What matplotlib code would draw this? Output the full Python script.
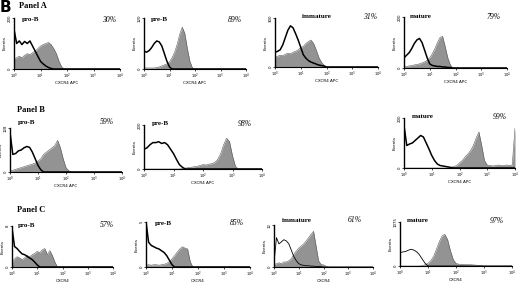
import numpy as np
import matplotlib
matplotlib.use('Agg')
import matplotlib.pyplot as plt

# histogram heights (fraction of axis height) every 0.1 decade from 10^0
a1_open = [0.78, 0.5, 0.55, 0.48, 0.54, 0.5, 0.55, 0.45, 0.35, 0.25, 0.15, 0.1, 0.06, 0.03, 0.01]
a1_fill = [0.2, 0.22, 0.25, 0.22, 0.27, 0.3, 0.28, 0.32, 0.35, 0.4, 0.45, 0.48, 0.5, 0.52, 0.48, 0.4, 0.3, 0.15, 0.04]
a2_open = [0.35, 0.33, 0.36, 0.42, 0.5, 0.55, 0.53, 0.45, 0.3, 0.15, 0.04]
a2_fill = [0.02, 0.02, 0.02, 0.02, 0.02, 0.03, 0.04, 0.06, 0.08, 0.1, 0.14, 0.22, 0.33, 0.48, 0.68, 0.82, 0.7, 0.4, 0.15, 0.02]
a3_open = [0.3, 0.32, 0.35, 0.45, 0.6, 0.75, 0.84, 0.8, 0.68, 0.55, 0.4, 0.25, 0.18, 0.13, 0.1, 0.08, 0.06, 0.04, 0.03, 0.02]
a3_fill = [0.2, 0.22, 0.24, 0.23, 0.26, 0.28, 0.27, 0.3, 0.32, 0.35, 0.4, 0.42, 0.48, 0.52, 0.55, 0.48, 0.35, 0.2, 0.1, 0.04]
a4_open = [0.2, 0.25, 0.3, 0.38, 0.48, 0.55, 0.58, 0.5, 0.35, 0.2, 0.08, 0.05, 0.04, 0.03, 0.03, 0.02, 0.02, 0.01, 0.01]
a4_fill = [0.02, 0.03, 0.04, 0.05, 0.06, 0.07, 0.08, 0.1, 0.12, 0.15, 0.2, 0.28, 0.38, 0.5, 0.6, 0.62, 0.42, 0.2, 0.06]
b1_open = [0.9, 0.4, 0.42, 0.48, 0.5, 0.55, 0.58, 0.56, 0.45, 0.3, 0.15, 0.05]
b1_fill = [0.02, 0.04, 0.06, 0.08, 0.1, 0.12, 0.14, 0.16, 0.18, 0.2, 0.25, 0.3, 0.4, 0.45, 0.5, 0.55, 0.6, 0.72, 0.55, 0.3, 0.1, 0.03]
b2_open = [0.45, 0.48, 0.55, 0.6, 0.6, 0.62, 0.58, 0.6, 0.55, 0.45, 0.35, 0.22, 0.1, 0.04]
b2_fill = [0, 0, 0, 0, 0, 0, 0, 0, 0, 0, 0, 0, 0, 0.01, 0.02, 0.03, 0.04, 0.05, 0.06, 0.08, 0.1,
           0.09, 0.11, 0.12, 0.15, 0.22, 0.35, 0.55, 0.7, 0.62, 0.3, 0.06]
b3_open = [0.85, 0.45, 0.48, 0.5, 0.55, 0.6, 0.65, 0.62, 0.5, 0.38, 0.25, 0.15, 0.08, 0.05, 0.04, 0.03, 0.02, 0.01]
b3_fill = [0, 0, 0, 0, 0, 0, 0, 0, 0, 0, 0, 0, 0, 0, 0, 0, 0, 0.01, 0.03, 0.05, 0.1, 0.15, 0.22, 0.28,
           0.35, 0.45, 0.6, 0.72, 0.45, 0.15, 0.06, 0.05, 0.04, 0.05, 0.06, 0.05, 0.05, 0.06, 0.05, 0.06, 0.8]
c1_open = [0.95, 0.5, 0.45, 0.38, 0.32, 0.3, 0.26, 0.22, 0.18, 0.12, 0.05]
c1_fill = [0.1, 0.2, 0.25, 0.22, 0.18, 0.22, 0.28, 0.25, 0.3, 0.33, 0.38, 0.35, 0.42, 0.45, 0.3, 0.4, 0.28, 0.12]
c2_open = [1.0, 0.55, 0.48, 0.45, 0.42, 0.4, 0.36, 0.32, 0.25, 0.15, 0.05]
c2_fill = [0.04, 0.05, 0.04, 0.05, 0.05, 0.04, 0.05, 0.06, 0.08, 0.12, 0.18, 0.25, 0.33, 0.4, 0.45, 0.42, 0.4, 0.12]
c3_open = [0.1, 0.7, 0.55, 0.6, 0.65, 0.62, 0.55, 0.4, 0.25, 0.15, 0.08, 0.05, 0.04, 0.03, 0.03, 0.02, 0.02, 0.01, 0.01, 0.01]
c3_fill = [0.05, 0.08, 0.1, 0.08, 0.12, 0.12, 0.15, 0.2, 0.3, 0.38, 0.45, 0.5, 0.55, 0.62, 0.7, 0.78, 0.85, 0.5, 0.15, 0.06, 0.05, 0.02]
c4_open = [0.3, 0.32, 0.33, 0.36, 0.38, 0.36, 0.32, 0.25, 0.15, 0.06]
c4_fill = [0, 0, 0, 0, 0, 0, 0, 0, 0.01, 0.03, 0.06, 0.12, 0.22, 0.38, 0.55, 0.68, 0.72, 0.6, 0.35, 0.15,
           0.06, 0.04, 0.04, 0.035, 0.03, 0.03, 0.025, 0.02, 0.015, 0.01]

titles = ['pro-B', 'pre-B', 'immature', 'mature', 'pro-B', 'pre-B', 'mature',
          'pro-B', 'pre-B', 'immature', 'mature']
percents = ['30%', '89%', '31%', '79%', '59%', '98%', '99%', '57%', '85%', '61%', '97%']
ymax_labels = ['200', '120', '300', '200', '128', '200', '200', '8', '5', '12', '1075']
xlabels = ['CXCR4 APC'] * 7 + ['CXCR4'] * 4
opens = [a1_open, a2_open, a3_open, a4_open, b1_open, b2_open, b3_open, c1_open, c2_open, c3_open, c4_open]
fills = [a1_fill, a2_fill, a3_fill, a4_fill, b1_fill, b2_fill, b3_fill, c1_fill, c2_fill, c3_fill, c4_fill]

# axes boxes in pixels: left, right, top, bottom ; title x, pct x, text y
boxes = [(14, 120, 18, 69, 22, 102, 20), (144, 246, 18, 69, 151, 228, 20),
         (275, 378, 18, 67, 302, 363, 17), (404, 507, 17, 68, 410, 487, 17),
         (10, 122, 128, 172, 18, 100, 122), (144, 262, 125, 169, 152, 238, 124),
         (404, 515, 118, 168, 412, 493, 117),
         (12, 113, 226, 267, 18, 100, 225), (146, 250, 222, 267, 155, 230, 223),
         (274, 373, 225, 267, 282, 348, 220), (400, 512, 222, 266, 407, 490, 221)]

W, H = 520, 282
fig = plt.figure(figsize=(W / 100, H / 100), dpi=100)
fig.patch.set_facecolor('white')

logx = np.round(np.arange(0, 4.01, 0.1), 1)
x = 10 ** logx

for i, (l, r, t, b, tx, px, ty) in enumerate(boxes):
    ax = fig.add_axes([l / W, 1 - b / H, (r - l) / W, (b - t) / H])
    o = np.pad(np.array(opens[i], float), (0, len(x) - len(opens[i])))
    f = np.pad(np.array(fills[i], float), (0, len(x) - len(fills[i])))
    ax.fill_between(x, f, color='#939393', lw=0)
    ax.plot(x, f, color='#5a5a5a', lw=0.4)
    lw = 0.6 if i >= 9 else 1.1
    ax.plot(x, o, color='black', lw=lw)
    ax.set_xscale('log')
    ax.set_xlim(1, 1e4)
    ax.set_ylim(0, 1)
    for s in ['top', 'right']:
        ax.spines[s].set_visible(False)
    ax.spines['left'].set_linewidth(1.0)
    ax.spines['bottom'].set_linewidth(0.8)
    ax.set_xticks([1, 10, 100, 1000, 10000])
    ax.set_xticklabels(['10$^0$', '10$^1$', '10$^2$', '10$^3$', '10$^4$'], fontsize=2.6)
    ax.minorticks_off()
    ax.set_yticks([0, 1])
    ax.set_yticklabels(['0', ymax_labels[i]], fontsize=2.8, rotation=90, va='center')
    ax.tick_params(length=1.2, width=0.5, pad=0.6)
    ax.set_xlabel(xlabels[i], fontsize=3.0, labelpad=0.3)
    ax.set_ylabel('Events', fontsize=3.0, labelpad=0.5)
    fig.text(tx / W, 1 - ty / H, titles[i], fontsize=5, fontweight='bold',
             family='Liberation Serif', va='center')
    fig.text(px / W, 1 - ty / H, percents[i], fontsize=5.5, style='italic',
             family='Liberation Serif', va='center')

fig.text(0 / W, 1 - 7 / H, 'B', fontsize=11, fontweight='bold', family='DejaVu Sans', va='center')
fig.text(19 / W, 1 - 6 / H, 'Panel A', fontsize=6, fontweight='bold', family='Liberation Serif', va='center')
fig.text(17 / W, 1 - 110 / H, 'Panel B', fontsize=6, fontweight='bold', family='Liberation Serif', va='center')
fig.text(17 / W, 1 - 210 / H, 'Panel C', fontsize=6, fontweight='bold', family='Liberation Serif', va='center')

fig.savefig('out.png', dpi=100)
